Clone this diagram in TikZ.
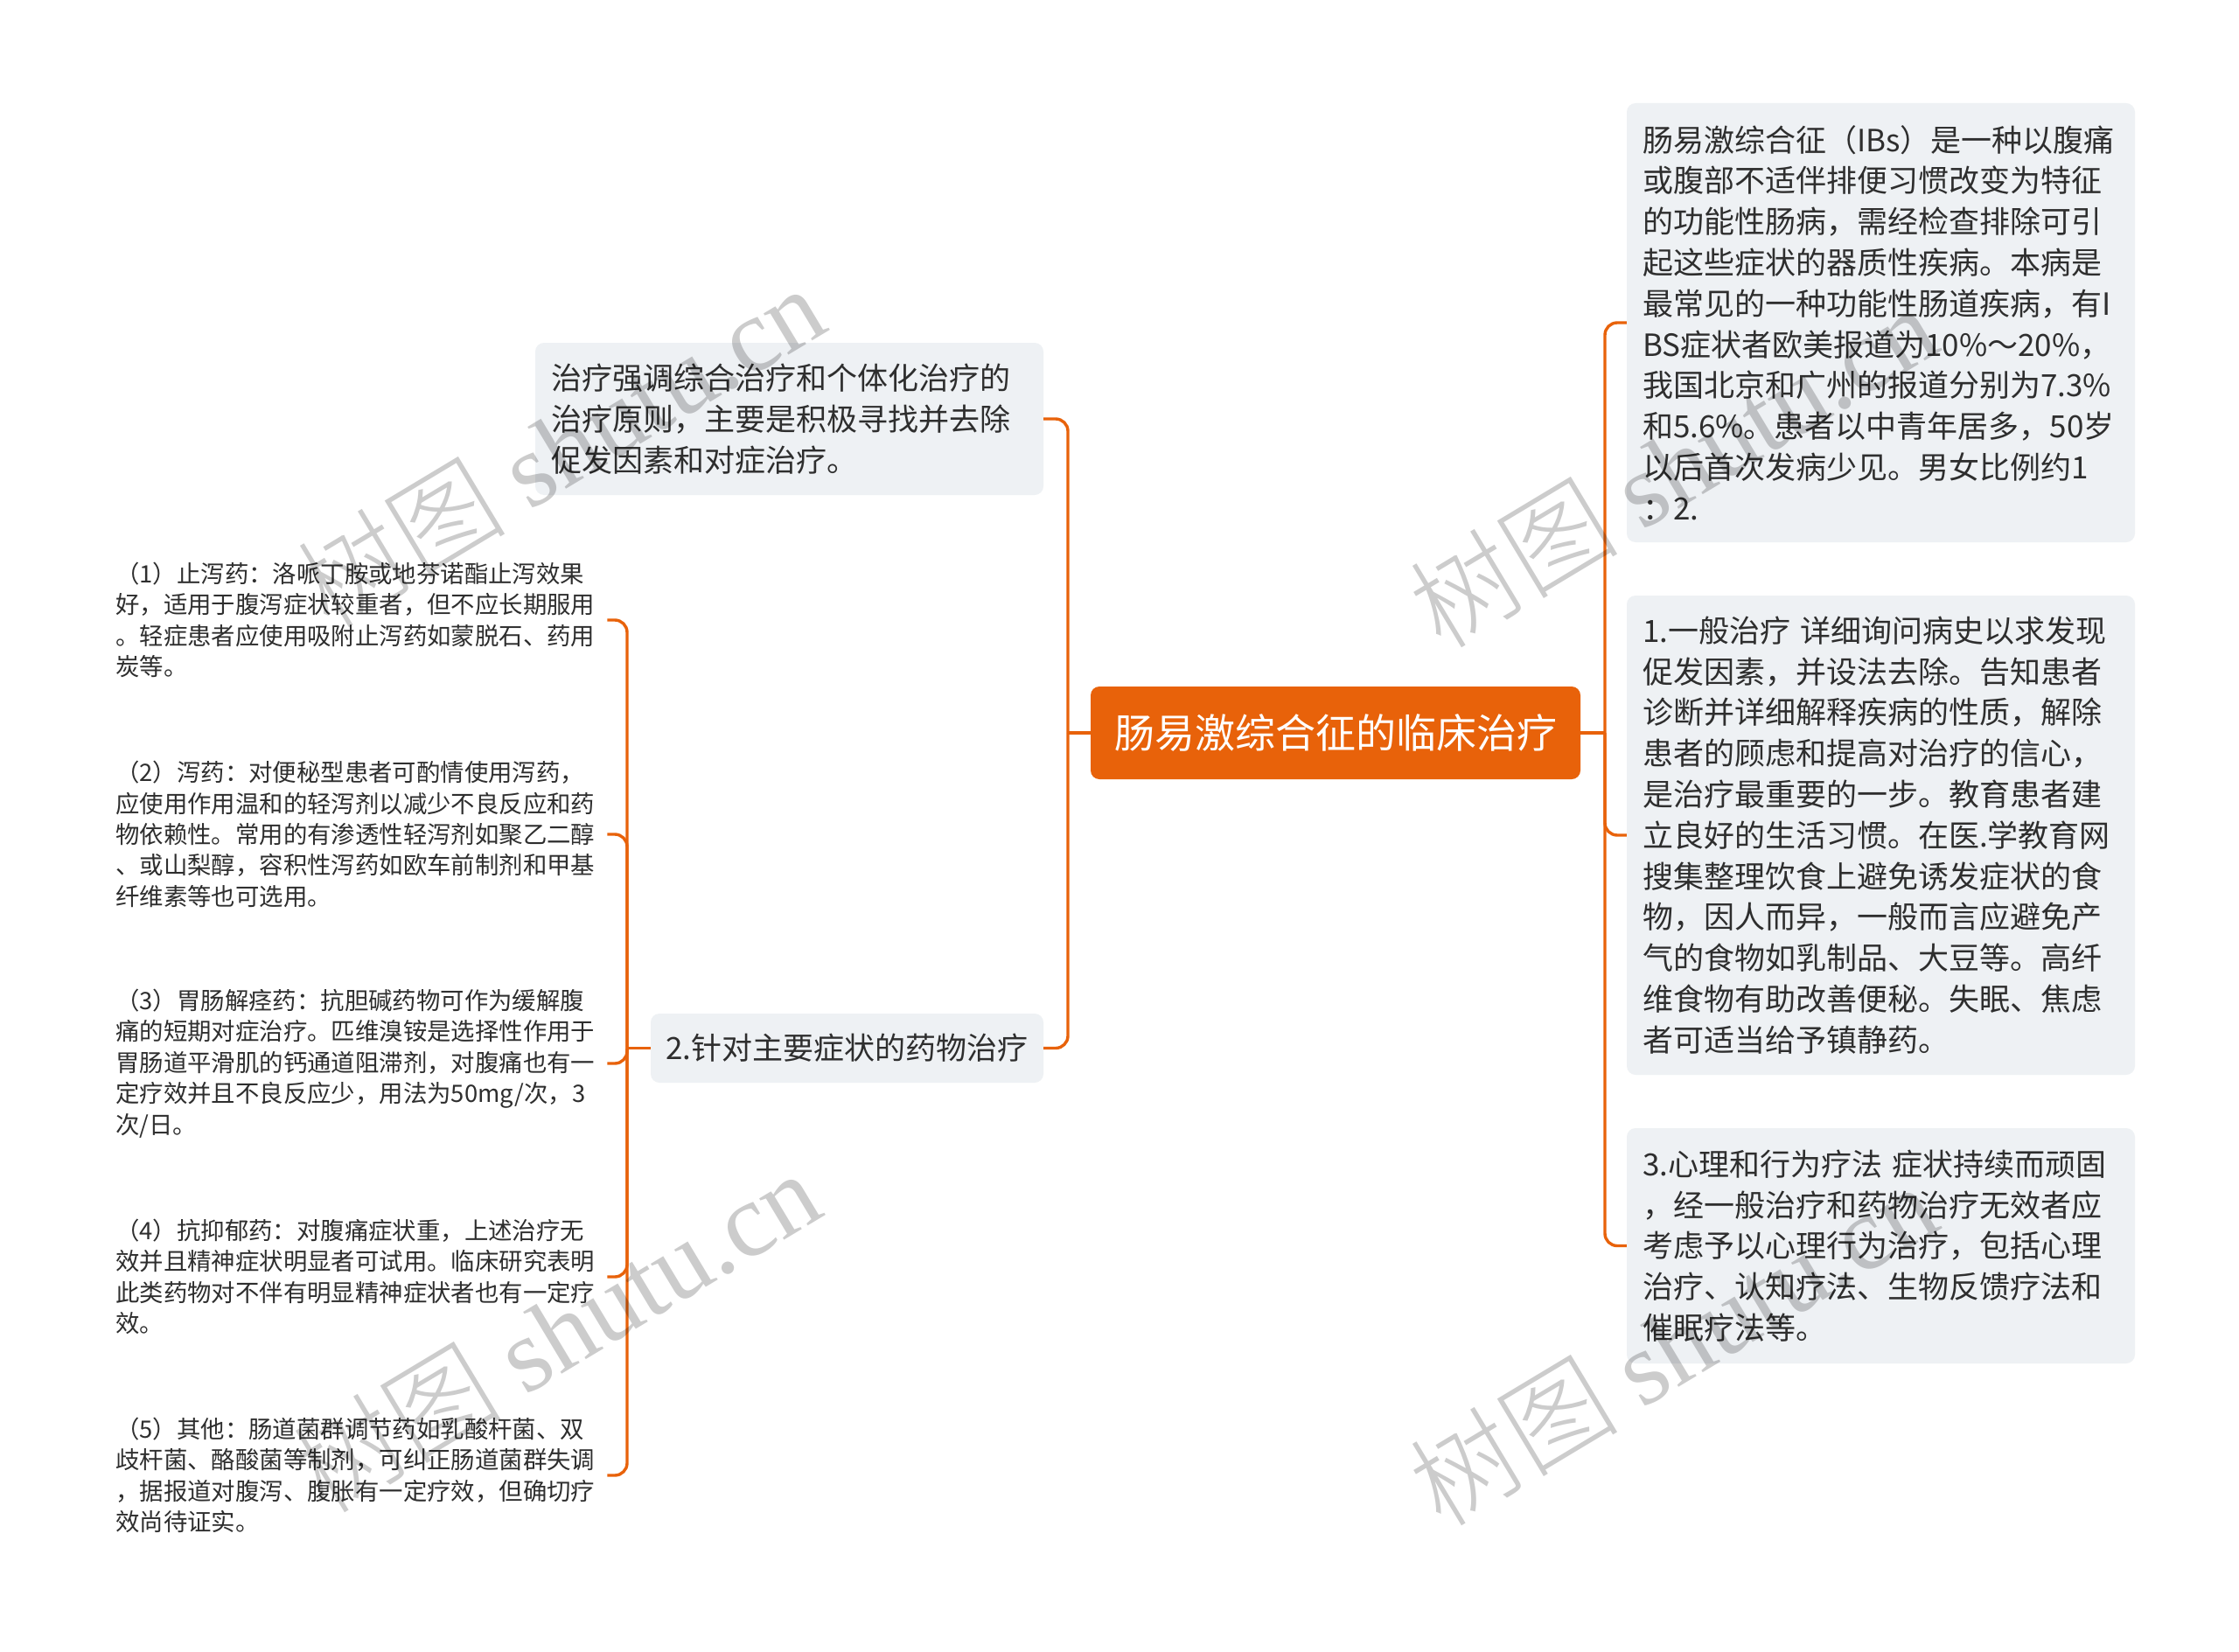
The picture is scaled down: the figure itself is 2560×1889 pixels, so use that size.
\documentclass[tikz,border=0pt]{standalone}
\usepackage{fontspec}
\setmainfont{Noto Sans CJK SC}
\newfontfamily\wmlatin{Liberation Serif}
\newfontfamily\wmcjk{Noto Sans CJK SC Light}
\definecolor{orng}{HTML}{E8620A}
\definecolor{boxbg}{HTML}{EEF1F4}
\definecolor{txt}{HTML}{2E2E2E}
\tikzset{
  conn/.style={draw=orng, line width=3.4pt, rounded corners=14pt},
  bigbox/.style={fill=boxbg, rounded corners=10pt, text=txt,
    font=\fontsize{35}{46.8}\selectfont, align=left, inner xsep=18pt, inner ysep=0pt,
    minimum width=581pt, text width=545pt},
  rootbox/.style={fill=orng, rounded corners=10pt, text=white,
    font=\fontsize{46}{55}\selectfont, align=center, inner sep=0pt,
    minimum width=560pt, minimum height=106pt},
  midbox/.style={fill=boxbg, rounded corners=10pt, text=txt,
    font=\fontsize{35}{46.8}\selectfont, align=center, inner sep=0pt,
    minimum width=449pt, minimum height=79pt},
  smalltxt/.style={text=txt, font=\fontsize{27.4}{35.4}\selectfont,
    align=left, inner sep=0pt, anchor=west, text width=560pt},
  wm/.style={text=black, text opacity=0.2, rotate=31,
    font=\fontsize{120}{130}\selectfont, inner sep=0pt}
}
\begin{document}
\begin{tikzpicture}[x=1pt, y=-1pt]
\useasboundingbox[fill=white] (0,0) rectangle (2560,1889);

% root
\node[rootbox] (root) at (1527,838) {肠易激综合征的临床治疗};

% left branch nodes
\node[bigbox, minimum height=174pt] (tl) at (902.5,479)
  {治疗强调综合治疗和个体化治疗的\\治疗原则，主要是积极寻找并去除\\促发因素和对症治疗。};
\node[midbox] (m2) at (968.5,1198.5) {2.针对主要症状的药物治疗};

% right branch nodes
\node[bigbox, minimum height=502pt] (ra) at (2150.5,369)
  {肠易激综合征（IBs）是一种以腹痛\\或腹部不适伴排便习惯改变为特征\\的功能性肠病，需经检查排除可引\\起这些症状的器质性疾病。本病是\\最常见的一种功能性肠道疾病，有I\\BS症状者欧美报道为10\%～20\%，\\我国北京和广州的报道分别为7.3\%\\和5.6\%。患者以中青年居多，50岁\\以后首次发病少见。男女比例约1\\：2.};
\node[bigbox, minimum height=548pt] (rb) at (2150.5,955)
  {1.一般治疗 详细询问病史以求发现\\促发因素，并设法去除。告知患者\\诊断并详细解释疾病的性质，解除\\患者的顾虑和提高对治疗的信心，\\是治疗最重要的一步。教育患者建\\立良好的生活习惯。在医.学教育网\\搜集整理饮食上避免诱发症状的食\\物，因人而异，一般而言应避免产\\气的食物如乳制品、大豆等。高纤\\维食物有助改善便秘。失眠、焦虑\\者可适当给予镇静药。};
\node[bigbox, minimum height=269pt] (rc) at (2150.5,1424.5)
  {3.心理和行为疗法 症状持续而顽固\\，经一般治疗和药物治疗无效者应\\考虑予以心理行为治疗，包括心理\\治疗、认知疗法、生物反馈疗法和\\催眠疗法等。};

% small text nodes
\node[smalltxt] (s1) at (132,709)
  {（1）止泻药：洛哌丁胺或地芬诺酯止泻效果\\好，适用于腹泻症状较重者，但不应长期服用\\。轻症患者应使用吸附止泻药如蒙脱石、药用\\炭等。};
\node[smalltxt] (s2) at (132,954)
  {（2）泻药：对便秘型患者可酌情使用泻药，\\应使用作用温和的轻泻剂以减少不良反应和药\\物依赖性。常用的有渗透性轻泻剂如聚乙二醇\\、或山梨醇，容积性泻药如欧车前制剂和甲基\\纤维素等也可选用。};
\node[smalltxt] (s3) at (132,1216)
  {（3）胃肠解痉药：抗胆碱药物可作为缓解腹\\痛的短期对症治疗。匹维溴铵是选择性作用于\\胃肠道平滑肌的钙通道阻滞剂，对腹痛也有一\\定疗效并且不良反应少，用法为50mg/次，3\\次/日。};
\node[smalltxt] (s4) at (132,1460)
  {（4）抗抑郁药：对腹痛症状重，上述治疗无\\效并且精神症状明显者可试用。临床研究表明\\此类药物对不伴有明显精神症状者也有一定疗\\效。};
\node[smalltxt] (s5) at (132,1687)
  {（5）其他：肠道菌群调节药如乳酸杆菌、双\\歧杆菌、酪酸菌等制剂，可纠正肠道菌群失调\\，据报道对腹泻、腹胀有一定疗效，但确切疗\\效尚待证实。};

% bus coordinates
\coordinate (lbus) at (1221,838);
\coordinate (rbus) at (1835,838);
\coordinate (sbus) at (717,1198.5);

% connectors
\draw[conn] (root.west) -- (lbus);
\draw[conn] (lbus) |- (tl.east);
\draw[conn] (lbus) |- (m2.east);
\draw[conn] (root.east) -- (rbus);
\draw[conn] (rbus) |- (ra.west);
\draw[conn] (rbus) |- (rb.west);
\draw[conn] (rbus) |- (rc.west);
\draw[conn] (m2.west) -- (sbus);
\draw[conn] (sbus) |- ([xshift=2pt]s1.east);
\draw[conn] (sbus) |- ([xshift=2pt]s2.east);
\draw[conn] (sbus) |- ([xshift=2pt]s3.east);
\draw[conn] (sbus) |- ([xshift=2pt]s4.east);
\draw[conn] (sbus) |- ([xshift=2pt]s5.east);

% watermarks
\node[wm] (w1) at (640,510) {{\wmcjk 树图} {\wmlatin shutu.cn}};
\node[wm] (w2) at (1912,533) {{\wmcjk 树图} {\wmlatin shutu.cn}};
\node[wm] (w3) at (635,1522) {{\wmcjk 树图} {\wmlatin shutu.cn}};
\node[wm] (w4) at (1912,1537) {{\wmcjk 树图} {\wmlatin shutu.cn}};
\end{tikzpicture}
\end{document}
